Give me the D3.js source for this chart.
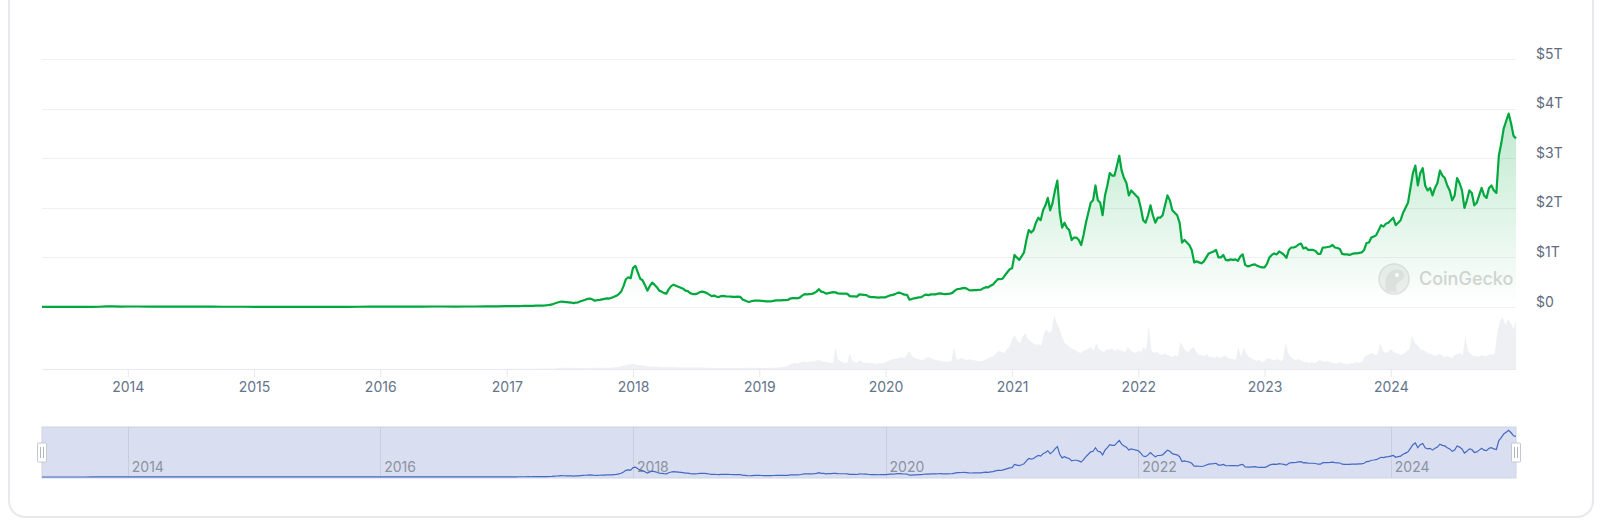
<!DOCTYPE html>
<html>
<head>
<meta charset="utf-8">
<script src="https://cdn.jsdelivr.net/npm/d3@7"></script>
<style>
  html, body { margin: 0; padding: 0; background: #ffffff; }
  svg { display: block; font-family: Inter, "Noto Sans", sans-serif; }
</style>
</head>
<body>
<svg id="chart" width="1600" height="522"></svg>
<script>
// ---------------- DATA (market cap in $B, volume in $B) ----------------
const startDate = "2013-04-28";
const endDate = "2024-12-28";

const cap2013 = [1.6, 1.3, 1.2, 1.1, 1.2, 1.4, 1.6, 2.2, 5.5, 13.5, 11, 9.5];
const cap2014 = [10.5, 10, 8, 6.5, 6, 8.5, 8.5, 7.5, 6.5, 5.5, 5.5, 5];
const cap2015 = [4, 3.5, 3.7, 3.5, 3.4, 3.4, 4.2, 3.9, 3.7, 4.3, 5.5, 6.8];
const cap2016 = [6.8, 6.8, 6.9, 7.0, 7.6, 10.5, 10.5, 9.5, 10, 10.5, 11.5, 14.5];
const cap2017 = [17.7, 18.5, 16.5, 17.5, 18.5, 19, 20, 21, 22.5, 24, 23, 24, 26,
  26, 27, 29, 31, 35, 42, 52, 70, 85, 100, 110, 105, 100, 95, 90, 78, 90, 95,
  115, 130, 145, 165, 170, 150, 125, 140, 145, 155, 165, 175, 170,
  185, 205, 225, 260, 310, 420, 560, 600, 580];
const cap2018 = [790, 830, 700, 570, 540, 440, 330, 420, 490, 450, 400, 330, 310,
  280, 270, 360, 420, 450, 430, 410, 390, 370, 330, 320, 280, 260,
  260, 270, 300, 310, 300, 280, 250, 220, 230, 210, 200, 220, 225,
  215, 212, 208, 205, 205, 210, 205, 150, 130, 110, 105, 120, 130, 128];
const cap2019 = [128, 125, 120, 115, 112, 115, 125, 135, 135, 135, 138, 140, 142,
  170, 180, 180, 175, 190, 230, 260, 255, 260, 265, 280, 310, 360,
  310, 300, 270, 280, 290, 300, 295, 275, 270, 270, 270, 265, 220,
  215, 215, 210, 255, 250, 245, 240, 210, 200, 200, 195, 190, 195, 195];
const cap2020 = [195, 215, 235, 245, 260, 285, 290, 265, 250, 245, 150, 160, 175,
  185, 195, 200, 230, 250, 240, 255, 255, 255, 270, 275, 265, 260,
  265, 270, 285, 330, 360, 365, 375, 385, 370, 340, 335, 340, 340,
  345, 350, 380, 400, 395, 430, 455, 510, 560, 560, 570, 640, 700, 760];
const cap2021 = [780, 1050, 1000, 950, 1020, 1100, 1350, 1550, 1500,
  1550, 1700, 1800, 1750, 1950, 2050, 2200, 1950, 2100,
  2350, 2550, 1900, 1600, 1700, 1600, 1550, 1350,
  1400, 1400, 1350, 1250, 1450, 1700, 1900, 2100, 2150,
  2450, 2150, 2100, 1850, 2250, 2450, 2700, 2650, 2650,
  2850, 3050, 2750, 2600, 2500, 2250, 2350, 2300, 2250];
const cap2022 = [2200, 2000, 1750, 1700, 1850, 2050, 1850, 1700,
  1800, 1800, 1850, 2050, 2250, 2150, 1950, 1900, 1850,
  1700, 1300, 1350, 1300, 1250, 1150, 900, 920, 900,
  880, 920, 1000, 1080, 1100, 1120, 1150, 1000,
  1000, 1050, 950, 940, 960, 950, 960, 930, 1020,
  1060, 850, 820, 830, 850, 860, 830, 810, 800];
const cap2023 = [800, 870, 1000, 1050, 1080, 1060, 1120, 1090,
  1050, 990, 1150, 1200, 1200, 1220, 1260, 1280, 1180,
  1200, 1150, 1150, 1150, 1130, 1070, 1070, 1200, 1200,
  1210, 1220, 1250, 1200, 1190, 1170, 1070, 1060,
  1060, 1050, 1070, 1080, 1080, 1090, 1100, 1150, 1290,
  1300, 1400, 1420, 1450, 1550, 1650, 1620, 1680, 1700];
const cap2024 = [1750, 1800, 1650, 1700, 1750, 1900, 2000, 2100,
  2400, 2700, 2850, 2450, 2700, 2800, 2450, 2350, 2400,
  2250, 2400, 2500, 2750, 2650, 2600, 2450, 2350,
  2150, 2250, 2600, 2500, 2350, 2000, 2150, 2350, 2300,
  2050, 2100, 2250, 2400, 2250, 2200, 2400, 2450, 2350,
  2300, 3050, 3300, 3600, 3750, 3900, 3700, 3450, 3400];

const vol2013 = [0.1, 0.1, 0.1, 0.1, 0.1, 0.1, 0.2, 0.4, 0.3];
const vol2014 = [0.2, 0.2, 0.1, 0.1, 0.1, 0.1, 0.1, 0.1, 0.1, 0.1, 0.1, 0.1];
const vol2015 = [0.1, 0.1, 0.1, 0.1, 0.1, 0.1, 0.1, 0.1, 0.1, 0.2, 0.3, 0.2];
const vol2016 = [0.2, 0.2, 0.2, 0.2, 0.2, 0.4, 0.3, 0.3, 0.2, 0.2, 0.3, 0.4];
const vol2017 = [1, 1, 1, 1, 1.5, 1.5, 1.5, 2, 3, 3, 5, 6, 6, 5, 5, 4, 5, 6, 6, 6, 8, 10, 15, 22];
const vol2018 = [25, 20, 18, 12, 12, 10, 9, 10, 9, 8, 8, 7, 7, 7, 6, 6, 5, 5, 5, 5, 5, 6, 6, 6];
const vol2019 = [5, 5, 6, 5, 6, 6, 7, 6, 8, 9, 10, 12, 15, 25, 28, 30, 27, 32, 35, 38, 34, 36,
  40, 38, 42, 45, 40, 35, 38, 32, 30, 30, 110, 50, 40, 35, 30, 32, 80, 40, 35, 30, 45, 38,
  30, 32, 28, 30, 28, 26, 30, 28, 27];
const vol2020 = [35, 40, 45, 50, 50, 55, 60, 52, 70, 90, 65, 55, 50, 48, 45, 50, 60, 55, 50, 45,
  42, 40, 38, 36, 38, 40, 110, 45, 50, 55, 48, 45, 50, 45, 42, 40, 38, 42, 48, 55,
  60, 65, 80, 90, 85, 80, 100, 110];
const vol2021 = [150, 170, 140, 130, 160, 180, 150, 140, 130, 120, 125, 115, 170, 200, 180, 190,
  270, 230, 200, 160, 130, 120, 110, 100, 95, 85, 80, 90, 95, 100, 110, 90,
  130, 100, 90, 85, 100, 95, 105, 90, 100, 95, 90, 85, 110, 95, 85, 80];
const vol2022 = [90, 85, 110, 95, 220, 90, 80, 85, 75, 70, 80, 70, 65, 60, 70, 60,
  135, 110, 90, 85, 100, 110, 85, 70, 70, 65, 75, 60, 60, 55, 65, 55,
  60, 70, 55, 50, 50, 45, 110, 60, 105, 80, 60, 55, 45, 40, 45, 35];
const vol2023 = [40, 55, 50, 45, 45, 50, 40, 45, 130, 80, 60, 50, 45, 50, 40, 35,
  35, 30, 35, 30, 35, 45, 40, 35, 40, 35, 30, 28, 30, 35, 28, 25,
  25, 30, 28, 35, 30, 35, 60, 70, 75, 80, 70, 75, 130, 90, 80, 85];
const vol2024 = [100, 85, 80, 75, 70, 80, 90, 100, 170, 130, 120, 100, 95, 90, 80, 75,
  70, 65, 75, 70, 60, 65, 60, 55, 70, 75, 80, 70, 165, 90, 75, 65,
  65, 60, 70, 65, 65, 75, 70, 80, 180, 240, 260, 220, 250, 230, 200, 240];

const yTickValues = [0, 1000, 2000, 3000, 4000, 5000];
const yTickLabels = ["$0", "$1T", "$2T", "$3T", "$4T", "$5T"];
const watermarkText = "CoinGecko";

// ---------------- BUILD SERIES ----------------
const parse = d3.timeParse("%Y-%m-%d");
function spread(start, end, values, inclusive) {
  const t0 = +start, t1 = +end, n = values.length;
  const div = inclusive ? n - 1 : n;
  return values.map((v, i) => ({ date: new Date(t0 + (t1 - t0) * i / div), value: v }));
}
function build(arrs) {
  const out = [];
  const years = [2013, 2014, 2015, 2016, 2017, 2018, 2019, 2020, 2021, 2022, 2023, 2024];
  years.forEach((yr, k) => {
    const s = yr === 2013 ? parse(startDate) : new Date(yr, 0, 1);
    const last = yr === 2024;
    const e = last ? parse(endDate) : new Date(yr + 1, 0, 1);
    out.push(...spread(s, e, arrs[k], last));
  });
  return out;
}
const capData = build([cap2013, cap2014, cap2015, cap2016, cap2017, cap2018, cap2019, cap2020, cap2021, cap2022, cap2023, cap2024]);
const volData = build([vol2013, vol2014, vol2015, vol2016, vol2017, vol2018, vol2019, vol2020, vol2021, vol2022, vol2023, vol2024]);

// ---------------- LAYOUT ----------------
const svg = d3.select("#chart");
const L = 42, R = 1516;
const Y0 = 307, Y5 = 59;
const volBase = 369, volTop = 309;
const navTop = 427, navBottom = 478;

// card
svg.append("rect")
  .attr("x", 9).attr("y", -40).attr("width", 1584).attr("height", 557)
  .attr("rx", 16).attr("fill", "#fff")
  .attr("stroke", "#e8e9ed").attr("stroke-width", 2);

const x = d3.scaleTime().domain([parse(startDate), parse(endDate)]).range([L, R]);
const y = d3.scaleLinear().domain([0, 5000]).range([Y0, Y5]);
const yv = d3.scaleLinear().domain([0, 300]).range([volBase, volTop]);
const yn = d3.scaleLinear().domain([0, 4100]).range([navBottom - 1, navTop + 1]);

// gridlines
svg.append("g").selectAll("line").data(yTickValues).join("line")
  .attr("x1", L).attr("x2", R)
  .attr("y1", d => Math.round(y(d)) + 0.5).attr("y2", d => Math.round(y(d)) + 0.5)
  .attr("stroke", "#eef0f4").attr("stroke-width", 1);
svg.append("line")
  .attr("x1", L).attr("x2", R).attr("y1", volBase + 0.5).attr("y2", volBase + 0.5)
  .attr("stroke", "#e8eaef").attr("stroke-width", 1);

// volume
svg.append("path").datum(volData)
  .attr("fill", "#eef0f4")
  .attr("d", d3.area().x(d => x(d.date)).y0(volBase).y1(d => yv(d.value)));

// watermark
const wm = svg.append("g");
wm.append("circle").attr("cx", 1394).attr("cy", 279).attr("r", 15)
  .attr("fill", "#f0f0f0").attr("stroke", "#e2e2e2").attr("stroke-width", 1.5);
wm.append("path")
  .attr("d", "M1386,292 C1384,282 1386,272 1394,270 C1400,268 1405,272 1404,277 C1403,281 1397,281 1396,286 L1397,292 Z")
  .attr("fill", "#e3e3e3");
wm.append("circle").attr("cx", 1397).attr("cy", 275).attr("r", 2.2).attr("fill", "#ffffff");
wm.append("text").attr("x", 1419).attr("y", 285)
  .attr("font-size", 18).attr("font-weight", 500).attr("fill", "#d6d6d6")
  .text(watermarkText);

// gradient
const defs = svg.append("defs");
const grad = defs.append("linearGradient").attr("id", "capFill")
  .attr("gradientUnits", "userSpaceOnUse")
  .attr("x1", 0).attr("x2", 0).attr("y1", y(4000)).attr("y2", y(0));
grad.append("stop").attr("offset", 0).attr("stop-color", "#00a83e").attr("stop-opacity", 0.26);
grad.append("stop").attr("offset", 1).attr("stop-color", "#00a83e").attr("stop-opacity", 0.0);

svg.append("path").datum(capData)
  .attr("fill", "url(#capFill)")
  .attr("d", d3.area().x(d => x(d.date)).y0(Y0).y1(d => y(d.value)));

svg.append("path").datum(capData)
  .attr("fill", "none").attr("stroke", "#00a83e").attr("stroke-width", 2.2)
  .attr("stroke-linejoin", "round")
  .attr("d", d3.line().x(d => x(d.date)).y(d => y(d.value)));

// x axis
const xAxis = svg.append("g").attr("transform", `translate(0,${volBase})`)
  .call(d3.axisBottom(x).ticks(d3.timeYear.every(1)).tickFormat(d3.timeFormat("%Y"))
    .tickSize(8).tickPadding(5));
xAxis.select(".domain").remove();
xAxis.selectAll(".tick line").attr("stroke", "#e6e8ec");
xAxis.selectAll(".tick text").attr("fill", "#64748b").attr("font-size", 14)
  .attr("font-family", "Inter, 'Noto Sans', sans-serif");

// y axis (right)
const yAxis = svg.append("g").attr("transform", `translate(${R},0)`)
  .call(d3.axisRight(y).tickValues(yTickValues)
    .tickFormat((d, i) => yTickLabels[i]).tickSize(0).tickPadding(20));
yAxis.select(".domain").remove();
yAxis.selectAll(".tick text").attr("fill", "#5f6b80").attr("font-size", 14)
  .attr("dy", "-1").attr("font-family", "Inter, 'Noto Sans', sans-serif");

// ---------------- NAVIGATOR ----------------
svg.append("rect")
  .attr("x", L).attr("y", navTop).attr("width", R - L).attr("height", navBottom - navTop)
  .attr("fill", "#d9dff0").attr("stroke", "#cdd4e6").attr("stroke-width", 1);

const navTicks = x.ticks(d3.timeYear.every(2));
const navG = svg.append("g");
navG.selectAll("line").data(navTicks).join("line")
  .attr("x1", d => Math.round(x(d)) + 0.5).attr("x2", d => Math.round(x(d)) + 0.5)
  .attr("y1", navTop).attr("y2", navBottom)
  .attr("stroke", "#c6cddd").attr("stroke-width", 1);
navG.selectAll("text").data(navTicks).join("text")
  .attr("x", d => x(d) + 4).attr("y", 472)
  .attr("font-size", 14).attr("fill", "#8c92a0")
  .text(d3.timeFormat("%Y"));

svg.append("path").datum(capData)
  .attr("fill", "none").attr("stroke", "#4468c4").attr("stroke-width", 1.2)
  .attr("d", d3.line().x(d => x(d.date)).y(d => yn(d.value)));

// handles
[L, R].forEach(hx => {
  const g = svg.append("g");
  g.append("rect").attr("x", hx - 4.5).attr("y", 443).attr("width", 9).attr("height", 19)
    .attr("fill", "#fff").attr("stroke", "#c4c8d2").attr("stroke-width", 1).attr("rx", 1);
  [-1.5, 1.5].forEach(o => {
    g.append("line").attr("x1", hx + o).attr("x2", hx + o).attr("y1", 447).attr("y2", 458)
      .attr("stroke", "#b0b4be").attr("stroke-width", 1);
  });
});
</script>
</body>
</html>
